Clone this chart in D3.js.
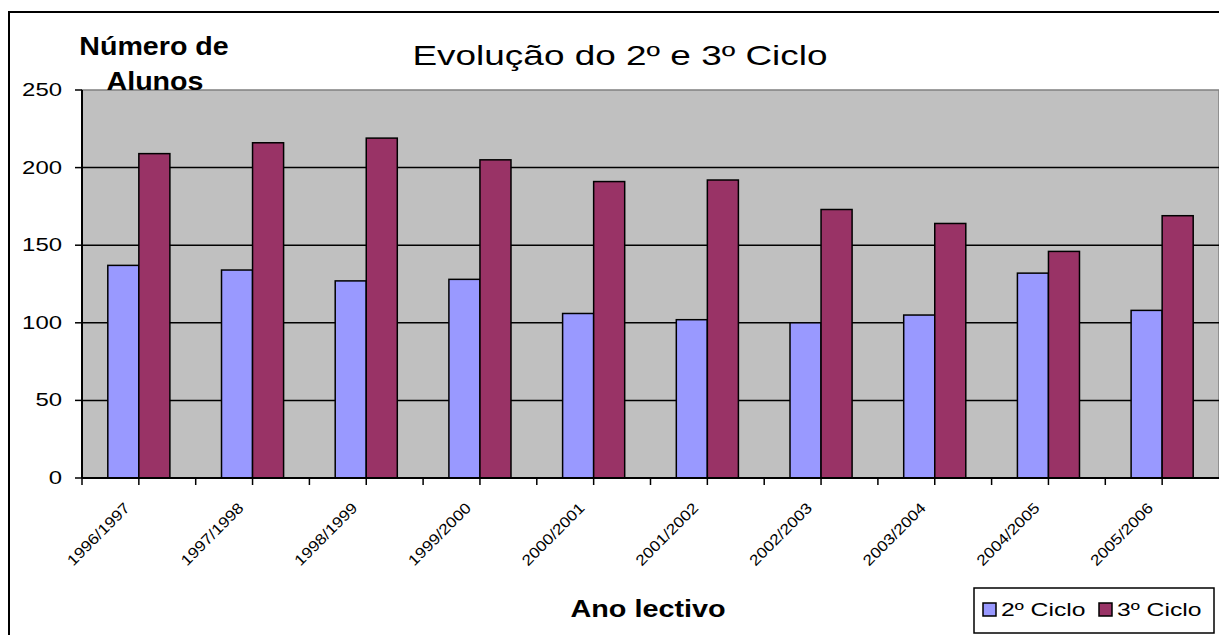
<!DOCTYPE html>
<html>
<head>
<meta charset="utf-8">
<script src="https://cdn.jsdelivr.net/npm/d3@7"></script>
<style>
body { margin: 0; background: #fff; }
text { font-family: "Liberation Sans", Arial, sans-serif; }
</style>
</head>
<body>
<script>
// data
let years = ["1996/1997", "1997/1998", "1998/1999", "1999/2000", "2000/2001",
             "2001/2002", "2002/2003", "2003/2004", "2004/2005", "2005/2006"]
let ciclo2 = [137, 134, 127, 128, 106, 102, 100, 105, 132, 108]
let ciclo3 = [209, 216, 219, 205, 191, 192, 173, 164, 146, 169]
let yTicks = [0, 50, 100, 150, 200, 250]
let seriesNames = ["2º Ciclo", "3º Ciclo"]
let colors = ["#9999ff", "#993366"]

let width = 1219, height = 635
let plot = {left: 82, right: 1219, top: 90, bottom: 478}

let svg = d3.select("body")
    .append("svg")
    .attr("width", width)
    .attr("height", height)

// outer chart border (runs off the right and bottom edges)
svg.append("rect")
    .attr("x", 9).attr("y", 12)
    .attr("width", 1220).attr("height", 640)
    .attr("fill", "#fff")
    .attr("stroke", "#000")
    .attr("stroke-width", 2)

let y = d3.scaleLinear().domain([0, 250]).range([plot.bottom, plot.top])
let x0 = d3.scaleBand().domain(years).range([plot.left, plot.right]).padding(0)
let x1 = d3.scaleBand().domain([0, 1])
    .range([x0.bandwidth() * 0.227, x0.bandwidth() * 0.773]).padding(0)

// text stretched horizontally like the screenshot
function label(g, str, x, yy, size, weight, anchor, sx, rot) {
    return g.append("text")
        .attr("transform", `translate(${x},${yy}) rotate(${rot || 0}) scale(${sx},1)`)
        .attr("font-size", size)
        .attr("font-weight", weight)
        .attr("text-anchor", anchor)
        .attr("fill", "#000")
        .text(str)
}

// plot background
svg.append("rect")
    .attr("x", plot.left).attr("y", plot.top)
    .attr("width", plot.right - plot.left).attr("height", plot.bottom - plot.top)
    .attr("fill", "#c0c0c0")
    .attr("stroke", "#808080")
    .attr("stroke-width", 1.5)

// gridlines
svg.selectAll(".grid")
    .data(yTicks.filter(d => d > 0 && d < 250))
    .enter().append("line")
    .attr("x1", plot.left).attr("x2", plot.right)
    .attr("y1", d => y(d)).attr("y2", d => y(d))
    .attr("stroke", "#000")
    .attr("stroke-width", 1.5)

// bars
let groups = svg.selectAll(".cat")
    .data(years)
    .enter().append("g")
    .attr("transform", d => `translate(${x0(d)},0)`)

groups.selectAll("rect")
    .data((d, i) => [ciclo2[i], ciclo3[i]])
    .enter().append("rect")
    .attr("x", (d, j) => x1(j))
    .attr("y", d => y(d))
    .attr("width", x1.bandwidth())
    .attr("height", d => plot.bottom - y(d))
    .attr("fill", (d, j) => colors[j])
    .attr("stroke", "#000")
    .attr("stroke-width", 1.5)

// y axis
let yAxis = svg.append("g")
yAxis.append("line")
    .attr("x1", plot.left).attr("x2", plot.left)
    .attr("y1", plot.top).attr("y2", plot.bottom)
    .attr("stroke", "#000").attr("stroke-width", 2)
yAxis.selectAll(".yt")
    .data(yTicks)
    .enter().append("line")
    .attr("x1", plot.left - 7).attr("x2", plot.left)
    .attr("y1", d => y(d)).attr("y2", d => y(d))
    .attr("stroke", "#000").attr("stroke-width", 1.5)
yTicks.forEach(t => label(yAxis, t, 62, y(t) + 6, 18, "normal", "end", 1.33))

// x axis
let xAxis = svg.append("g")
xAxis.append("line")
    .attr("x1", plot.left).attr("x2", plot.right)
    .attr("y1", plot.bottom).attr("y2", plot.bottom)
    .attr("stroke", "#000").attr("stroke-width", 2)
let halfTicks = []
years.forEach(d => { halfTicks.push(x0(d)); halfTicks.push(x0(d) + x0.bandwidth() / 2) })
xAxis.selectAll(".xt")
    .data(halfTicks)
    .enter().append("line")
    .attr("x1", d => d).attr("x2", d => d)
    .attr("y1", plot.bottom).attr("y2", plot.bottom + 7)
    .attr("stroke", "#000").attr("stroke-width", 1.5)
years.forEach(d => label(xAxis, d, x0(d) + x0.bandwidth() / 2 - 8, 509, 15, "normal", "end", 1.15, -45))

// titles
label(svg, "Evolução do 2º e 3º Ciclo", 620, 65, 28, "normal", "middle", 1.32)
label(svg, "Número de", 154, 55, 26, "bold", "middle", 1.1)
label(svg, "Alunos", 155, 90, 26, "bold", "middle", 1.1)
label(svg, "Ano lectivo", 648, 617, 24, "bold", "middle", 1.2)

// legend
let legend = svg.append("g")
legend.append("rect")
    .attr("x", 974).attr("y", 588)
    .attr("width", 240).attr("height", 45)
    .attr("fill", "#fff")
    .attr("stroke", "#000")
    .attr("stroke-width", 1.5)
let legendX = [983, 1099]
seriesNames.forEach((name, i) => {
    legend.append("rect")
        .attr("x", legendX[i]).attr("y", 603)
        .attr("width", 13).attr("height", 13)
        .attr("fill", colors[i])
        .attr("stroke", "#000")
        .attr("stroke-width", 1.5)
    label(legend, name, legendX[i] + 18, 616, 19, "normal", "start", 1.3)
})
</script>
</body>
</html>
